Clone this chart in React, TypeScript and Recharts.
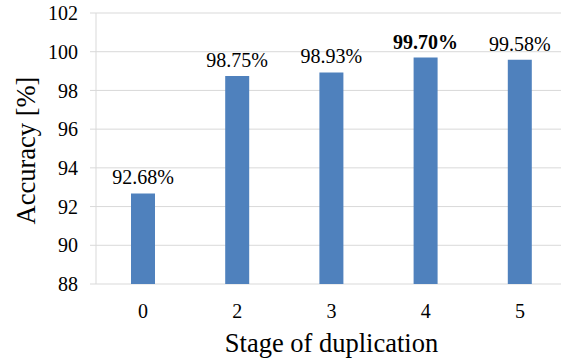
import React from "react";
import { BarChart, Bar, XAxis, YAxis, CartesianGrid, LabelList, Label } from "recharts";

const stages = ["0", "2", "3", "4", "5"];
const accuracy = [92.68, 98.75, 98.93, 99.7, 99.58];
const accuracyLabels = ["92.68%", "98.75%", "98.93%", "99.70%", "99.58%"];
const yTicks = [88, 90, 92, 94, 96, 98, 100, 102];

const data = stages.map((stage, i) => ({
  stage,
  accuracy: accuracy[i],
  label: accuracyLabels[i],
}));

const best = Math.max(...accuracy);
const font = '"Liberation Serif", "Times New Roman", serif';

const renderValueLabel = (props: any) => {
  const { x, y, width, index } = props;
  const isBest = accuracy[index] === best;
  return (
    <text
      x={x + width / 2}
      y={y - 9}
      textAnchor="middle"
      style={{ fontFamily: font, fontSize: 20, fontWeight: isBest ? "bold" : "normal", fill: "#000" }}
    >
      {accuracyLabels[index]}
    </text>
  );
};

export default function App() {
  return (
    <div
      className="chart"
      style={{ position: "absolute", left: 0, top: 0, width: 561, height: 360, overflow: "hidden", background: "#fff" }}
    >
      <style>{`.chart text { font-family: "Liberation Serif", "Times New Roman", serif; }`}</style>
      <BarChart
        width={600}
        height={360}
        data={data}
        margin={{ top: 13, right: 33, left: 0, bottom: 0 }}
      >
        <CartesianGrid vertical={false} stroke="#d9d9d9" />
        <XAxis
          dataKey="stage"
          height={76}
          axisLine={false}
          tickLine={false}
          tickSize={0}
          tickMargin={20}
          tick={{ fill: "#000", fontSize: 20 }}
        >
          <Label
            value="Stage of duplication"
            position="center"
            dy={21}
            style={{ fontSize: 26.5, fontFamily: font, fill: "#000" }}
          />
        </XAxis>
        <YAxis
          width={96}
          domain={[88, 102]}
          ticks={yTicks}
          interval={0}
          stroke="#d9d9d9"
          tickSize={6}
          tickMargin={12}
          tick={{ fill: "#000", fontSize: 20 }}
        >
          <Label
            value="Accuracy [%]"
            angle={-90}
            position="center"
            dx={-22}
            dy={2}
            style={{ fontSize: 26.5, fontFamily: font, fill: "#000", textAnchor: "middle" }}
          />
        </YAxis>
        <Bar dataKey="accuracy" fill="#4F81BD" barSize={24} isAnimationActive={false}>
          <LabelList dataKey="label" content={renderValueLabel} />
        </Bar>
      </BarChart>
    </div>
  );
}
